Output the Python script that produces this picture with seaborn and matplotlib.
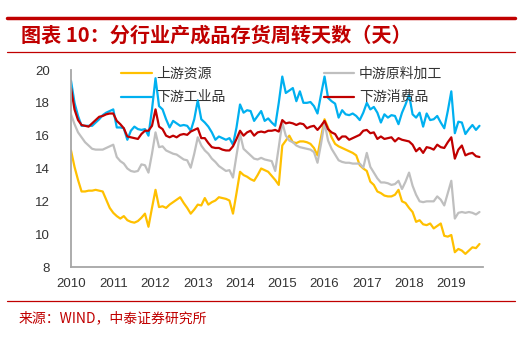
import numpy as np
import pandas as pd
import matplotlib
matplotlib.use("Agg")
import matplotlib.pyplot as plt
import seaborn as sns

# ---- data (monthly, Jan 2010 .. Sep 2019) ----
start_year = 2010
n_months = 117

upstream = [
    15.1, 14.1, 13.3, 12.6, 12.6, 12.65, 12.65, 12.7, 12.65, 12.6, 12.1, 11.6,
    11.3, 11.1, 10.95, 11.1, 10.85, 10.75, 10.7, 10.8, 11.0, 11.25, 10.45, 11.6,
    12.7, 11.65, 11.7, 11.6, 11.8, 11.95, 12.1, 12.25, 11.9, 11.6, 11.25, 11.5,
    11.8, 11.75, 12.2, 11.8, 11.95, 12.05, 12.25, 12.2, 12.15, 12.05, 11.25, 12.5,
    13.8, 13.6, 13.5, 13.35, 13.25, 13.6, 14.0, 13.9, 13.8, 13.55, 13.3, 13.0,
    15.4, 15.7, 16.0, 15.6, 15.55, 15.65, 15.65, 15.6, 15.5, 15.25, 14.8, 15.9,
    17.0, 16.5, 15.9, 15.5, 15.35, 15.25, 15.15, 15.05, 14.95, 14.8, 14.2, 14.0,
    13.85, 13.2, 13.0, 12.6, 12.5, 12.35, 12.3, 12.3, 12.4, 12.7, 12.0, 11.9,
    11.6, 11.35, 10.75, 10.85, 10.6, 10.55, 10.65, 10.35, 10.5, 10.65, 9.9, 9.85,
    9.95, 8.9, 9.1, 9.0, 8.8, 9.0, 9.2, 9.15, 9.4,
]

midstream = [
    17.3, 16.7, 16.2, 15.9, 15.6, 15.4, 15.2, 15.15, 15.15, 15.15, 15.25, 15.35,
    15.45, 14.7, 14.45, 14.3, 14.0, 13.85, 13.8, 13.85, 14.25, 14.2, 13.75, 14.9,
    16.2, 15.3, 15.35, 15.1, 15.0, 14.9, 14.85, 14.7, 14.55, 14.5, 14.05, 14.9,
    15.9, 15.4, 15.1, 14.9, 14.6, 14.4, 14.15, 14.0, 13.85, 13.9, 13.45, 14.8,
    16.1, 15.2, 15.0, 14.8, 14.6, 14.55, 14.65, 14.55, 14.5, 14.45, 13.85, 15.3,
    16.8, 16.0, 15.7, 15.6, 15.4, 15.3, 15.25, 15.2, 15.15, 15.0, 14.35, 15.5,
    16.8, 15.7, 15.2, 14.85, 14.5, 14.4, 14.35, 14.35, 14.3, 14.3, 14.3, 14.05,
    14.95, 14.1, 13.75, 13.4, 13.15, 13.15, 13.1, 13.0, 13.05, 13.25, 12.75, 13.2,
    13.75, 12.95, 12.4, 12.0, 11.95, 12.0, 12.0, 12.0, 12.3, 12.1, 11.75, 12.5,
    13.25, 10.95, 11.3, 11.35, 11.3, 11.35, 11.3, 11.2, 11.35,
]

down_industrial = [
    19.35, 18.0, 17.2, 16.6, 16.6, 16.6, 16.6, 16.8, 17.0, 17.25, 17.4, 17.5,
    17.6, 16.5, 16.5, 16.45, 15.75, 16.3, 16.55, 16.4, 16.35, 16.4, 16.0, 17.6,
    19.5, 17.8, 17.6, 17.0, 16.5, 16.9, 16.75, 16.6, 16.65, 16.6, 16.3, 17.0,
    18.15, 17.0, 16.8, 16.55, 16.2, 15.75, 15.95, 15.85, 15.75, 15.85, 15.45, 16.5,
    17.9, 17.4, 17.55, 17.5, 16.9, 17.2, 17.5, 16.9, 17.05, 16.8, 16.6, 18.0,
    19.6, 18.6, 18.75, 18.9, 18.1, 18.7, 18.0, 18.0, 18.05, 17.8, 17.35, 18.5,
    19.6, 18.3, 18.1, 17.95, 17.1, 17.55, 17.3, 17.25, 17.35, 17.2, 16.95, 17.4,
    18.0, 17.6, 17.75, 17.4, 16.8, 17.3, 17.1, 17.25, 17.2, 16.7, 17.4, 17.9,
    18.5, 17.3, 17.1, 17.4, 16.55, 17.35, 16.95, 17.0, 17.2, 16.8, 16.45, 17.5,
    18.7, 16.15, 16.85, 16.8, 16.1, 16.4, 16.65, 16.35, 16.6,
]

down_consumer = [
    18.9, 17.6, 16.95, 16.65, 16.6, 16.55, 16.75, 16.95, 17.15, 17.2, 17.3, 17.35,
    17.35, 16.9, 16.7, 16.45, 15.95, 15.9, 15.85, 15.8, 16.1, 16.3, 16.3, 16.6,
    17.6, 16.55, 16.4, 16.0, 15.9, 16.0, 15.9, 16.05, 16.1, 16.05, 16.25, 16.35,
    16.45, 15.85, 15.85, 15.55, 15.3, 15.25, 15.25, 15.15, 15.1, 15.1, 15.35, 15.8,
    16.3, 16.0, 16.2, 16.3, 16.0, 16.2, 16.25, 16.2, 16.3, 16.3, 16.35, 16.25,
    16.95, 16.75, 16.8, 16.75, 16.65, 16.75, 16.7, 16.45, 16.55, 16.6, 16.35, 16.6,
    16.9, 16.4, 16.2, 16.1, 15.75, 15.95, 15.95, 15.75, 15.85, 15.95, 16.05, 16.3,
    16.35, 16.15, 16.2, 15.8, 15.95, 15.8, 15.85, 15.9, 15.65, 15.85, 15.75, 15.7,
    15.65, 15.45, 15.05, 15.25, 14.95, 15.3, 15.25, 15.15, 15.45, 15.3, 15.25, 15.6,
    15.9, 14.6, 15.15, 15.4, 14.8, 14.9, 14.95, 14.75, 14.7,
]

series_names = ["上游资源", "中游原料加工", "下游工业品", "下游消费品"]
series_colors = ["#FFC000", "#BFBFBF", "#00B0F0", "#C00000"]
year_ticks = list(range(2010, 2020))
y_ticks = [8, 10, 12, 14, 16, 18, 20]

title_text = "图表 10：分行业产成品存货周转天数（天）"
source_text = "来源：WIND，中泰证券研究所"

# ---- build table ----
t = start_year + np.arange(n_months) / 12.0
frames = []
for name, vals in zip(series_names, [upstream, midstream, down_industrial, down_consumer]):
    frames.append(pd.DataFrame({"t": t[:len(vals)], "value": vals, "series": name}))
df = pd.concat(frames, ignore_index=True)

# ---- style ----
sns.set_style("white")
plt.rcParams["font.family"] = ["Liberation Sans", "Noto Sans CJK SC", "DejaVu Sans"]
cjk = ["Noto Sans CJK SC", "DejaVu Sans"]

W, H = 526, 342
fig = plt.figure(figsize=(W / 100, H / 100), dpi=100)
ax = fig.add_axes([71 / W, 1 - 267 / H, (483 - 71) / W, (267 - 70) / H])

for name, col in zip(series_names, series_colors):
    sub = df[df["series"] == name]
    sns.lineplot(data=sub, x="t", y="value", color=col, linewidth=1.6, ax=ax, label=name)

handles, labels = ax.get_legend_handles_labels()
hmap = dict(zip(labels, handles))
order = ["上游资源", "下游工业品", "中游原料加工", "下游消费品"]
leg = ax.legend([hmap[k] for k in order], order, ncol=2, frameon=False,
                loc="upper left", bbox_to_anchor=(121 / W, 1 - 67 / H),
                bbox_transform=fig.transFigure, borderpad=0, borderaxespad=0,
                prop={"family": cjk, "size": 10}, handlelength=2.2,
                columnspacing=7.05, labelspacing=0.68, handletextpad=0.35)
for txt in leg.get_texts():
    txt.set_color("#333333")

ax.set_xlim(2010, 2019.75)
ax.set_ylim(8, 20)
ax.set_xticks(year_ticks)
ax.set_xticklabels([str(y) for y in year_ticks])
ax.set_yticks(y_ticks)
ax.set_xlabel("")
ax.set_ylabel("")
for s in ["top", "right"]:
    ax.spines[s].set_visible(False)
for s in ["left", "bottom"]:
    ax.spines[s].set_color("#A6A6A6")
    ax.spines[s].set_linewidth(1.3)
ax.tick_params(axis="both", which="major", direction="out", length=4, width=1,
               color="#A6A6A6", labelsize=9.5, labelcolor="#333333")
ax.tick_params(axis="y", pad=11)
ax.tick_params(axis="x", pad=4)

# ---- decorations ----
fig.add_artist(plt.Line2D([7 / W, 515 / W], [1 - 18 / H, 1 - 18 / H],
                          color="#C00000", linewidth=2.5))
fig.add_artist(plt.Line2D([7 / W, 515 / W], [1 - 51.5 / H, 1 - 51.5 / H],
                          color="#C00000", linewidth=0.9))
fig.add_artist(plt.Line2D([7 / W, 515 / W], [1 - 301 / H, 1 - 301 / H],
                          color="#C00000", linewidth=0.9))
fig.text(21 / W, 1 - 35 / H, title_text, color="#C00000", fontsize=14.5,
         fontweight="bold", family=cjk, va="center", ha="left")
fig.text(19 / W, 1 - 318 / H, source_text, color="#C00000", fontsize=10,
         family=cjk, va="center", ha="left")

fig.savefig("out.png", dpi=100)
